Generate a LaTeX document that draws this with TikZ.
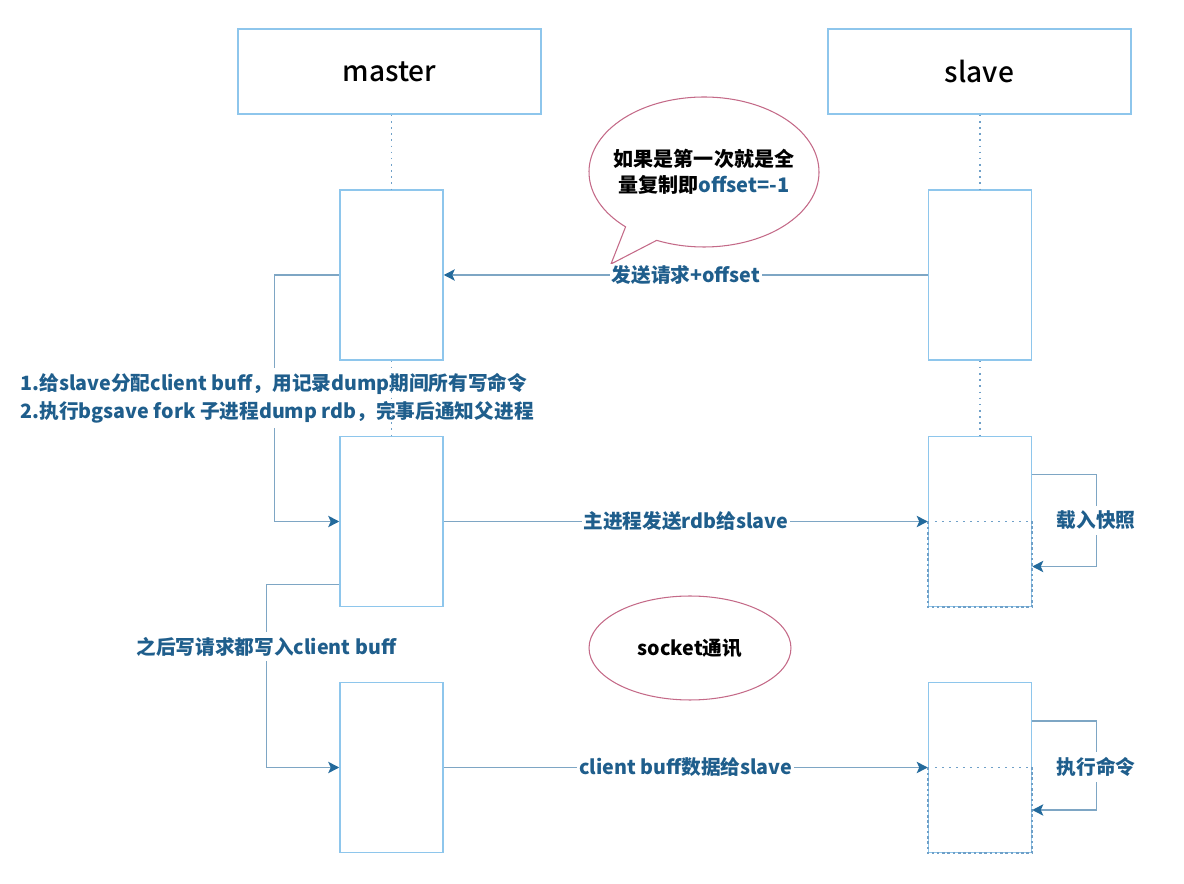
\documentclass[tikz,border=0pt]{standalone}
\usepackage{fontspec}
\setmainfont{Noto Sans CJK SC}
\newfontfamily\headfont{Noto Sans CJK SC}[UprightFont=* Medium]
\usepackage{tikz}
\usetikzlibrary{arrows.meta,shapes.geometric,calc}
\usepackage{xcolor}
\definecolor{boxblue}{HTML}{8EC6EC}
\definecolor{flowblue}{HTML}{7EA6C4}
\definecolor{tipblue}{HTML}{236A9C}
\definecolor{textblue}{HTML}{1F5E8C}
\definecolor{lifeblue}{HTML}{6FA0C8}
\definecolor{bubblered}{HTML}{C46A88}

\begin{document}
\begin{tikzpicture}[x=0.02cm, y=-0.02cm,
    headbox/.style={draw=boxblue, line width=0.9pt, minimum width=6.06cm, minimum height=1.7cm, font=\headfont\fontsize{16}{18}\selectfont},
    actbox/.style={draw=boxblue, line width=0.9pt, minimum width=2.06cm, minimum height=3.4cm},
    flow/.style={draw=flowblue, line width=0.8pt, -{Stealth[length=6.3pt, width=6.5pt, inset=1.5pt, color=tipblue]}},
    lbl/.style={fill=white, text=textblue, font=\bfseries\fontsize{11.2}{16}\selectfont, inner sep=1pt},
    lifeline/.style={draw=lifeblue, line width=0.8pt, dash pattern=on 0.9pt off 2.6pt},
    halfdash/.style={draw=lifeblue, line width=0.9pt, dash pattern=on 1.5pt off 1.5pt},
    bubble/.style={draw=bubblered, line width=0.6pt, fill=white}]
    \useasboundingbox (0,0) rectangle (1184,884);

    % =========================================================
    % HEADS
    % =========================================================
    \node[headbox] (master) at (389.5,71.5) {master};
    \node[headbox] (slave) at (979.5,71.5) {slave};

    % =========================================================
    % ACTIVATION BOXES
    % =========================================================
    \node[actbox] (m1) at (391.5,275) {};
    \node[actbox] (m2) at (391.5,521.5) {};
    \node[actbox] (m3) at (391.5,767.5) {};
    \node[actbox] (s1) at (980,275) {};
    \node[actbox] (s2) at (980,521.5) {};
    \node[actbox] (s3) at (980,767.5) {};

    % lifelines
    \draw[lifeline] (master.south -| m1.north) -- (m1.north);
    \draw[lifeline] (slave.south -| s1.north) -- (s1.north);
    \draw[lifeline] (s1.south) -- (s2.north);

    % =========================================================
    % SPEECH BUBBLE
    % =========================================================
    \coordinate (bub) at (704,172);
    \draw[bubble] ($(bub)+(133:115 and 75)$) arc[start angle=133, end angle=474.3, x radius=115, y radius=75]
        -- (611,264) -- cycle;
    \node[font=\bfseries\fontsize{11.4}{15}\selectfont, align=center] (note) at (bub)
        {如果是第一次就是全\\量复制即\textcolor{textblue}{offset=-1}};

    % =========================================================
    % MESSAGES
    % =========================================================
    \draw[flow] (s1.west) -- node[lbl] {发送请求+offset} (m1.west -| m1.east);

    \draw[flow] (m1.west) -- ++(-65,0) |- (m2.west);
    \node[lbl, anchor=west, align=left, inner sep=3pt] (note1) at (15,398)
        {1.给slave分配client buff，用记录dump期间所有写命令\\2.执行bgsave fork 子进程dump rdb，完事后通知父进程};
    \draw[lifeline] (m1.south) -- (m2.north);

    \draw[flow] (m2.east) -- node[lbl] {主进程发送rdb给slave} (s2.west);

    \draw[flow] ($(m2.south west)+(0,-23)$) -- ++(-73,0) |- node[lbl, pos=0.17, inner sep=3pt] {之后写请求都写入client buff} (m3.west);

    \draw[flow] (m3.east) -- node[lbl] {client buff数据给slave} (s3.west);

    % =========================================================
    % SLAVE SELF CALLS
    % =========================================================
    \draw[lifeline, dash pattern=on 1pt off 3pt] (s2.west) -- (s2.east);
    \draw[halfdash] (s2.west) -- (s2.south west) -- (s2.south east) -- (s2.east);
    \draw[flow] ($(s2.east)+(0,-47)$) -- ++(64,0) |- node[lbl, pos=0.25, inner sep=3pt] {载入快照} ($(s2.east)+(0,45)$);

    \draw[lifeline, dash pattern=on 1pt off 3pt] (s3.west) -- (s3.east);
    \draw[halfdash] (s3.west) -- (s3.south west) -- (s3.south east) -- (s3.east);
    \draw[flow] ($(s3.east)+(0,-46.5)$) -- ++(64,0) |- node[lbl, pos=0.26, inner sep=3pt] {执行命令} ($(s3.east)+(0,42.5)$);

    % socket
    \node[ellipse, draw=bubblered, line width=0.6pt, minimum width=4.04cm, minimum height=2.08cm,
        font=\bfseries\fontsize{11.2}{13}\selectfont] (sock) at (690,648) {socket通讯};
\end{tikzpicture}
\end{document}
